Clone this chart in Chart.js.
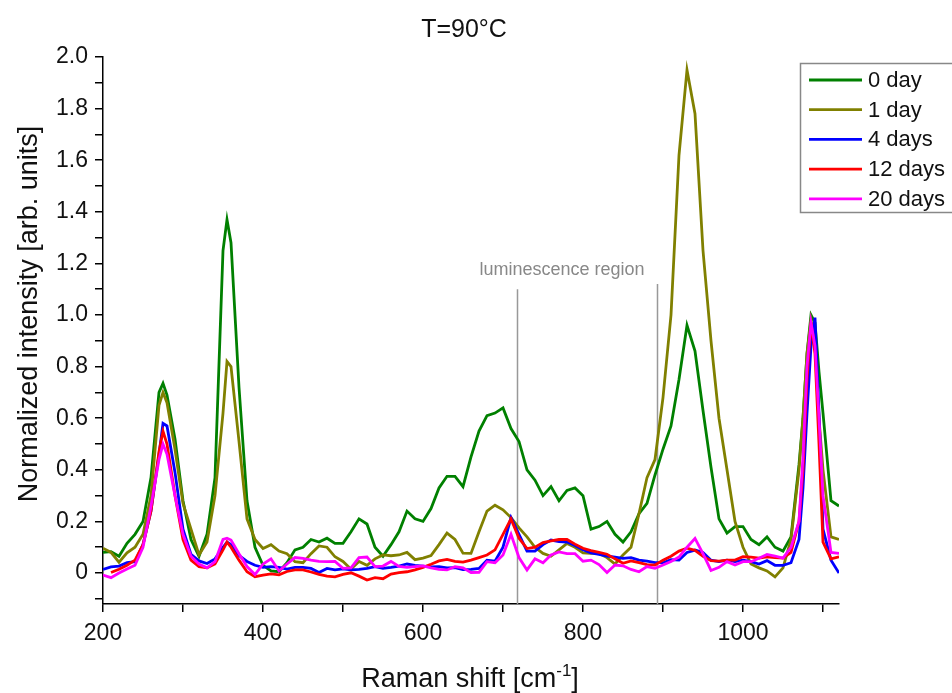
<!DOCTYPE html>
<html lang="en">
<head>
<meta charset="UTF-8">
<title>T=90°C Raman spectra</title>
<script src="https://cdn.jsdelivr.net/npm/chart.js"></script>
<style>
  body { margin: 0; background: #fff; }
  #chart { display: block; }
</style>
</head>
<body>
<canvas id="chart" width="952" height="693"></canvas>
<script>
// Raman shift values (cm-1)
const ramanShift = [
  200, 210, 220, 230, 240, 250, 260, 270, 275, 280, 290,
  300, 310, 320, 330, 340, 350, 355, 360, 370, 380, 390,
  400, 410, 420, 430, 440, 450, 460, 470, 480, 490,
  500, 510, 520, 530, 540, 550, 560, 570, 580, 590,
  600, 610, 620, 630, 640, 650, 660, 670, 680, 690,
  700, 710, 720, 730, 740, 750, 760, 770, 780, 790,
  800, 810, 820, 830, 840, 850, 860, 870, 880, 890,
  900, 910, 920, 930, 940, 950, 960, 970, 980, 990,
  1000, 1010, 1020, 1030, 1040, 1050, 1060, 1070, 1075, 1080, 1085, 1090, 1095,
  1100, 1110, 1120
];

const day0 = [
  0.08, 0.083, 0.065, 0.115, 0.15, 0.2, 0.37, 0.70, 0.735, 0.69, 0.52,
  0.28, 0.13, 0.065, 0.15, 0.37, 1.25, 1.37, 1.28, 0.72, 0.28, 0.1,
  0.03, 0.008, 0.005, 0.04, 0.09, 0.1, 0.13, 0.12, 0.135, 0.115,
  0.115, 0.16, 0.21, 0.19, 0.1, 0.065, 0.11, 0.16, 0.24, 0.21,
  0.2, 0.25, 0.33, 0.375, 0.375, 0.335, 0.45, 0.55, 0.61, 0.62,
  0.64, 0.56, 0.51, 0.4, 0.36, 0.3, 0.335, 0.28, 0.32, 0.33,
  0.3, 0.17, 0.18, 0.2, 0.15, 0.12, 0.16, 0.23, 0.27, 0.38,
  0.48, 0.57, 0.75, 0.96, 0.86, 0.63, 0.41, 0.21, 0.155, 0.18,
  0.18, 0.13, 0.11, 0.14, 0.1, 0.085, 0.14, 0.42, 0.6, 0.85, 1.0, 0.97, 0.78,
  0.62, 0.28, 0.26
];

const day1 = [
  0.096, 0.08, 0.042, 0.078, 0.1, 0.15, 0.3, 0.65, 0.70, 0.66, 0.48,
  0.27, 0.17, 0.07, 0.12, 0.3, 0.62, 0.82, 0.8, 0.51, 0.21, 0.13,
  0.095, 0.11, 0.085, 0.075, 0.044, 0.04, 0.075, 0.105, 0.1, 0.063,
  0.045, 0.015, 0.045, 0.03, 0.055, 0.07, 0.067, 0.07, 0.08, 0.052,
  0.058, 0.068, 0.11, 0.155, 0.13, 0.077, 0.076, 0.16, 0.24, 0.263,
  0.245, 0.215, 0.175, 0.14, 0.1, 0.076, 0.065, 0.09, 0.115, 0.1,
  0.078, 0.076, 0.076, 0.06, 0.035, 0.07, 0.1, 0.23, 0.37, 0.44,
  0.68, 1.0, 1.62, 1.95, 1.78, 1.25, 0.9, 0.6, 0.4, 0.2,
  0.1, 0.035, 0.02, 0.008, -0.015, 0.02, 0.13, 0.4, 0.6, 0.85, 0.98, 0.9, 0.6,
  0.4, 0.14, 0.13
];

const day4 = [
  0.014, 0.024, 0.027, 0.04, 0.044, 0.11, 0.24, 0.46, 0.58, 0.57, 0.39,
  0.17, 0.072, 0.047, 0.037, 0.055, 0.1, 0.12, 0.11, 0.068, 0.045, 0.03,
  0.022, 0.025, 0.022, 0.015, 0.022, 0.022, 0.018, 0.002, 0.018, 0.012,
  0.016, 0.012, 0.014, 0.018, 0.025, 0.018, 0.022, 0.027, 0.035, 0.03,
  0.027, 0.024, 0.025, 0.02, 0.021, 0.013, 0.014, 0.018, 0.05, 0.046,
  0.1, 0.215, 0.15, 0.085, 0.085, 0.11, 0.128, 0.122, 0.12, 0.107,
  0.09, 0.078, 0.072, 0.066, 0.062, 0.057, 0.06, 0.05, 0.046, 0.04,
  0.04, 0.052, 0.05, 0.08, 0.089, 0.08, 0.05, 0.044, 0.05, 0.044,
  0.05, 0.044, 0.035, 0.048, 0.03, 0.03, 0.04, 0.13, 0.33, 0.62, 0.88, 0.99, 0.62,
  0.17, 0.05, 0.0
];

const day12 = [
  null, 0.002, 0.015, 0.03, 0.05, 0.11, 0.24, 0.47, 0.55, 0.5, 0.3,
  0.13, 0.05, 0.025, 0.02, 0.035, 0.09, 0.12, 0.1, 0.05, 0.005, -0.014,
  -0.008, -0.003, -0.007, 0.006, 0.012, 0.012, 0.004, -0.005, -0.012, -0.015,
  -0.005, 0.001, -0.012, -0.027, -0.018, -0.022, -0.004, 0.002, 0.005, 0.012,
  0.022, 0.034, 0.047, 0.053, 0.045, 0.042, 0.05, 0.06, 0.07, 0.09,
  0.15, 0.21, 0.135, 0.095, 0.1, 0.118, 0.125, 0.13, 0.13, 0.112,
  0.096, 0.087, 0.08, 0.073, 0.055, 0.038, 0.047, 0.04, 0.033, 0.031,
  0.05, 0.065, 0.085, 0.096, 0.088, 0.065, 0.048, 0.046, 0.05, 0.05,
  0.063, 0.062, 0.058, 0.063, 0.06, 0.058, 0.08, 0.2, 0.4, 0.75, 0.97, 0.85, 0.5,
  0.12, 0.055, 0.063
];

const day20 = [
  -0.008, -0.018, 0.0, 0.016, 0.03, 0.1, 0.26, 0.44, 0.5, 0.46, 0.3,
  0.15, 0.065, 0.035, 0.02, 0.044, 0.13, 0.135, 0.128, 0.075, 0.025, -0.006,
  0.035, 0.055, 0.008, 0.035, 0.06, 0.057, 0.05, 0.045, 0.044, 0.045,
  0.018, 0.02, 0.06, 0.062, 0.025, 0.027, 0.045, 0.026, 0.022, 0.025,
  0.028, 0.02, 0.014, 0.012, 0.025, 0.02, 0.002, 0.003, 0.044, 0.04,
  0.07, 0.15, 0.06, 0.012, 0.055, 0.04, 0.07, 0.082, 0.075, 0.075,
  0.046, 0.05, 0.033, 0.002, 0.031, 0.028, 0.014, 0.005, 0.025, 0.018,
  0.031, 0.045, 0.062, 0.1, 0.134, 0.075, 0.01, 0.022, 0.044, 0.031,
  0.044, 0.044, 0.057, 0.072, 0.066, 0.058, 0.1, 0.2, 0.45, 0.8, 0.97, 0.88, 0.6,
  0.3, 0.08, 0.076
];

const seriesLabels = ['0 day', '1 day', '4 days', '12 days', '20 days'];
const seriesColors = ['#008000', '#808000', '#0000ff', '#ff0000', '#ff00ff'];
const seriesValues = [day0, day1, day4, day12, day20];

const xTicks = [200, 300, 400, 500, 600, 700, 800, 900, 1000, 1100];
const yTicks = [-0.1, 0, 0.1, 0.2, 0.3, 0.4, 0.5, 0.6, 0.7, 0.8, 0.9, 1.0,
  1.1, 1.2, 1.3, 1.4, 1.5, 1.6, 1.7, 1.8, 1.9, 2.0];

// luminescence region markers (cm-1) and their top (intensity)
const lumRegion = [718, 893];
const lumTop = [1.1, 1.12];

const FONT = "'Liberation Sans', Arial, sans-serif";
const TEXT = '#111';

const datasets = seriesValues.map((vals, i) => ({
  label: seriesLabels[i],
  data: ramanShift.map((x, j) => ({ x: x, y: vals[j] })),
  borderColor: seriesColors[i],
  backgroundColor: seriesColors[i],
  borderWidth: 2.8,
  pointRadius: 0,
  tension: 0,
  spanGaps: false,
  order: seriesValues.length - i
}));

const decorations = {
  id: 'decorations',
  beforeDatasetsDraw(chart) {
    const { ctx, chartArea, scales } = chart;
    ctx.save();
    ctx.strokeStyle = '#999';
    ctx.lineWidth = 1.5;
    lumRegion.forEach((v, i) => {
      const px = Math.round(scales.x.getPixelForValue(v)) + 0.5;
      ctx.beginPath();
      ctx.moveTo(px, scales.y.getPixelForValue(lumTop[i]));
      ctx.lineTo(px, chartArea.bottom);
      ctx.stroke();
    });
    ctx.restore();
  },
  afterDraw(chart) {
    const { ctx } = chart;
    ctx.save();
    ctx.fillStyle = TEXT;
    ctx.textBaseline = 'middle';

    // title
    ctx.textAlign = 'center';
    ctx.font = '25px ' + FONT;
    ctx.fillText('T=90°C', 464, 30);

    // x axis title with superscript
    ctx.font = '27px ' + FONT;
    const p1 = 'Raman shift [cm', p3 = ']';
    const supFont = '17px ' + FONT;
    const w1 = ctx.measureText(p1).width;
    const w3 = ctx.measureText(p3).width;
    ctx.font = supFont;
    const w2 = ctx.measureText('-1').width;
    let sx = 470 - (w1 + w2 + w3) / 2;
    ctx.textAlign = 'left';
    ctx.font = '27px ' + FONT;
    ctx.fillText(p1, sx, 680);
    ctx.font = supFont;
    ctx.fillText('-1', sx + w1, 671);
    ctx.font = '27px ' + FONT;
    ctx.fillText(p3, sx + w1 + w2, 680);

    // y axis title
    ctx.save();
    ctx.translate(30, 314);
    ctx.rotate(-Math.PI / 2);
    ctx.textAlign = 'center';
    ctx.fillText('Normalized intensity [arb. units]', 0, 0);
    ctx.restore();

    // annotation label
    ctx.fillStyle = '#888';
    ctx.font = '18px ' + FONT;
    ctx.textAlign = 'center';
    ctx.fillText('luminescence region', 562, 270);

    // legend
    ctx.strokeStyle = '#888';
    ctx.lineWidth = 1.5;
    ctx.strokeRect(800.5, 63.5, 170, 149);
    ctx.font = '22px ' + FONT;
    ctx.textAlign = 'left';
    seriesLabels.forEach((lab, i) => {
      const y = 80 + i * 29.7;
      ctx.strokeStyle = seriesColors[i];
      ctx.lineWidth = 2.8;
      ctx.beginPath();
      ctx.moveTo(809, y);
      ctx.lineTo(862, y);
      ctx.stroke();
      ctx.fillStyle = TEXT;
      ctx.fillText(lab, 868, y + 1);
    });
    ctx.restore();
  }
};

new Chart(document.getElementById('chart'), {
  type: 'line',
  data: { datasets: datasets },
  options: {
    responsive: false,
    devicePixelRatio: 1,
    animation: false,
    layout: { padding: { top: 57, right: 113, left: 0, bottom: 0 } },
    plugins: {
      legend: { display: false },
      title: { display: false },
      tooltip: { enabled: false }
    },
    scales: {
      x: {
        type: 'linear',
        min: 200,
        max: 1120,
        afterFit: s => { s.height = 89; },
        afterBuildTicks: s => { s.ticks = xTicks.map(v => ({ value: v })); },
        grid: { drawOnChartArea: false, drawTicks: true, tickLength: 8, color: '#000', lineWidth: 1.5 },
        border: { display: true, color: '#000', width: 1.5 },
        ticks: {
          autoSkip: false,
          maxRotation: 0,
          padding: 8,
          color: TEXT,
          font: { size: 23, family: FONT },
          callback: v => (v % 200 === 0 ? String(v) : '')
        }
      },
      y: {
        type: 'linear',
        min: -0.12,
        max: 2.0,
        afterFit: s => { s.width = 103; },
        afterBuildTicks: s => { s.ticks = yTicks.map(v => ({ value: v })); },
        grid: { drawOnChartArea: false, drawTicks: true, tickLength: 8, color: '#000', lineWidth: 1.5 },
        border: { display: true, color: '#000', width: 1.5 },
        ticks: {
          autoSkip: false,
          padding: 7,
          color: TEXT,
          font: { size: 23, family: FONT },
          callback: v => {
            const t = Math.round(v * 10);
            if (t % 2 !== 0 || t < 0) return '';
            return t === 0 ? '0' : (t / 10).toFixed(1);
          }
        }
      }
    }
  },
  plugins: [decorations]
});
</script>
</body>
</html>
